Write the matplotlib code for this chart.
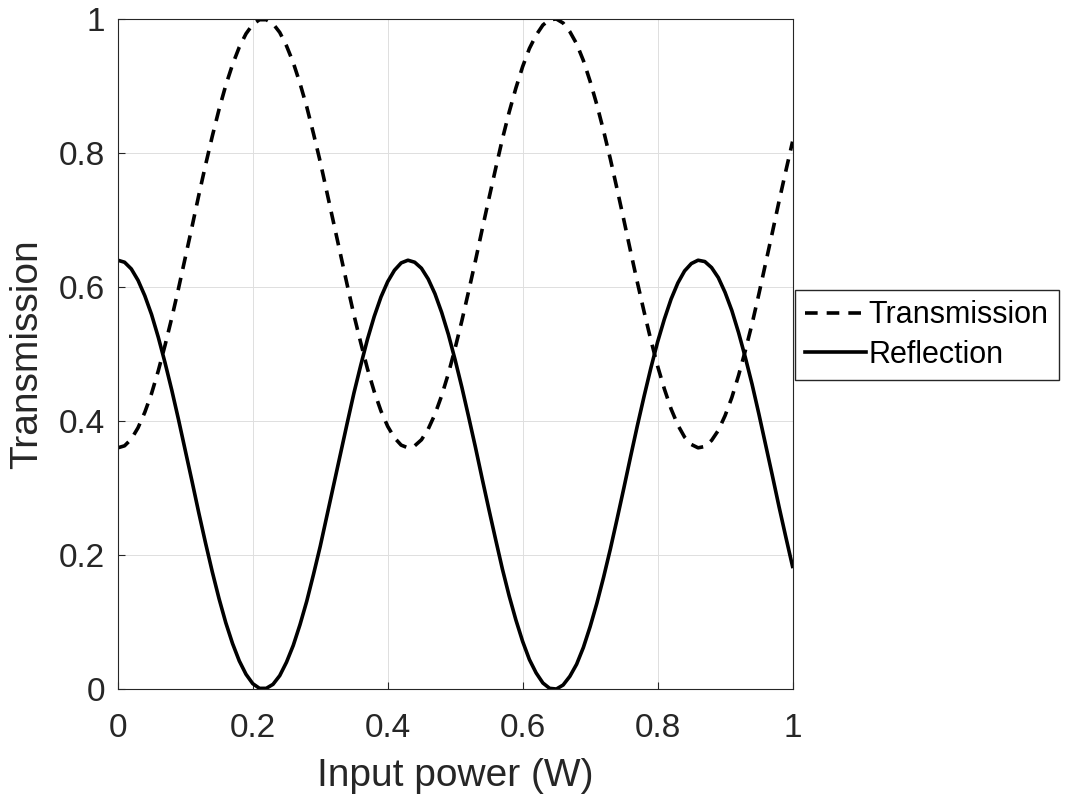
import matplotlib
matplotlib.use("Agg")
import matplotlib.pyplot as plt
from matplotlib.ticker import FuncFormatter

power = [i * 0.01 for i in range(101)]

transmission = [0.360, 0.363, 0.373, 0.390, 0.413, 0.441, 0.475, 0.513, 0.554, 0.598,
                0.644, 0.690, 0.737, 0.782, 0.825, 0.865, 0.901, 0.932, 0.958, 0.978,
                0.992, 0.999, 0.999, 0.993, 0.980, 0.960, 0.935, 0.904, 0.869, 0.829,
                0.787, 0.741, 0.695, 0.649, 0.603, 0.558, 0.517, 0.478, 0.444, 0.415,
                0.392, 0.375, 0.364, 0.360, 0.363, 0.372, 0.388, 0.410, 0.438, 0.471,
                0.509, 0.550, 0.594, 0.639, 0.686, 0.732, 0.777, 0.821, 0.861, 0.897,
                0.929, 0.956, 0.976, 0.991, 0.999, 1.000, 0.994, 0.981, 0.963, 0.938,
                0.907, 0.872, 0.833, 0.791, 0.746, 0.700, 0.653, 0.607, 0.563, 0.521,
                0.482, 0.448, 0.418, 0.394, 0.376, 0.365, 0.360, 0.362, 0.371, 0.386,
                0.408, 0.435, 0.468, 0.505, 0.545, 0.589, 0.635, 0.681, 0.728, 0.773,
                0.817]

reflection = [0.640, 0.637, 0.627, 0.610, 0.587, 0.559, 0.525, 0.487, 0.446, 0.402,
              0.356, 0.310, 0.263, 0.218, 0.175, 0.135, 0.099, 0.068, 0.042, 0.022,
              0.008, 0.001, 0.001, 0.007, 0.020, 0.040, 0.065, 0.096, 0.131, 0.171,
              0.213, 0.259, 0.305, 0.351, 0.397, 0.442, 0.483, 0.522, 0.556, 0.585,
              0.608, 0.625, 0.636, 0.640, 0.637, 0.628, 0.612, 0.590, 0.562, 0.529,
              0.491, 0.450, 0.406, 0.361, 0.314, 0.268, 0.223, 0.179, 0.139, 0.103,
              0.071, 0.044, 0.024, 0.009, 0.001, 0.000, 0.006, 0.019, 0.037, 0.062,
              0.093, 0.128, 0.167, 0.209, 0.254, 0.300, 0.347, 0.393, 0.437, 0.479,
              0.518, 0.552, 0.582, 0.606, 0.624, 0.635, 0.640, 0.638, 0.629, 0.614,
              0.592, 0.565, 0.532, 0.495, 0.455, 0.411, 0.365, 0.319, 0.272, 0.227,
              0.183]

x_ticks = [0, 0.2, 0.4, 0.6, 0.8, 1]
y_ticks = [0, 0.2, 0.4, 0.6, 0.8, 1]

plt.rcParams['font.family'] = ['Liberation Sans', 'DejaVu Sans']
axis_color = '#262626'

fig = plt.figure(figsize=(10.71, 7.96), dpi=100)
ax = fig.add_axes([0.110, 0.1344, 0.630, 0.8417])

ax.plot(power, transmission, color='black', lw=2.6, linestyle=(0, (3.5, 2.5)),
        label='Transmission')
ax.plot(power, reflection, color='black', lw=2.6, label='Reflection')

ax.set_xlim(0, 1)
ax.set_ylim(0, 1)
ax.set_xticks(x_ticks)
ax.set_yticks(y_ticks)
fmt = FuncFormatter(lambda v, _: '%g' % v)
ax.xaxis.set_major_formatter(fmt)
ax.yaxis.set_major_formatter(fmt)

ax.grid(True, color='#dedede', lw=0.7)
ax.set_axisbelow(True)
ax.tick_params(direction='in', length=5, width=0.8, colors=axis_color,
               labelsize=24)
ax.tick_params(axis='x', pad=17)
ax.tick_params(axis='y', pad=9)
for s in ax.spines.values():
    s.set_color(axis_color)
    s.set_linewidth(0.8)

ax.set_xlabel('Input power (W)', fontsize=28, color=axis_color, labelpad=10)
ax.set_ylabel('Transmission', fontsize=28, color=axis_color, labelpad=10)

fig.legend(loc='upper left', bbox_to_anchor=(0.742, 0.636), fontsize=22,
           frameon=True, fancybox=False, edgecolor=axis_color, framealpha=1,
           handlelength=2.0, handletextpad=0.05, borderpad=0.35, labelspacing=0.3,
           borderaxespad=0)

fig.savefig('out.png', dpi=100)
